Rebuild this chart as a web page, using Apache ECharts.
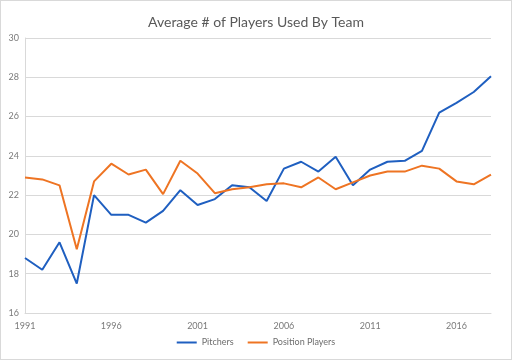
<!DOCTYPE html>
<html>
<head>
<meta charset="utf-8">
<script src="https://cdn.jsdelivr.net/npm/echarts@6/dist/echarts.min.js"></script>
<style>
html,body{margin:0;padding:0;background:#fff;}
#c{width:512px;height:360px;box-sizing:border-box;border:1px solid #d9d9d9;}
</style>
</head>
<body>
<div id="c"></div>
<script>
const years = [1991,1992,1993,1994,1995,1996,1997,1998,1999,2000,2001,2002,2003,2004,2005,2006,2007,2008,2009,2010,2011,2012,2013,2014,2015,2016,2017,2018];
const pitchers = [18.8,18.2,19.6,17.5,22.0,21.0,21.0,20.6,21.2,22.25,21.5,21.8,22.5,22.4,21.7,23.35,23.7,23.2,23.95,22.5,23.3,23.7,23.75,24.25,26.2,26.7,27.25,28.05];
const positionPlayers = [22.9,22.8,22.5,19.25,22.7,23.6,23.05,23.3,22.05,23.75,23.1,22.1,22.3,22.4,22.55,22.6,22.4,22.9,22.3,22.65,23.0,23.2,23.2,23.5,23.35,22.7,22.55,23.05];
const yTicks = {min:16, max:30, interval:2};

const chart = echarts.init(document.getElementById('c'));
const font = 'Lato, "Open Sans", sans-serif';
chart.setOption({
  animation:false,
  title:{text:'Average # of Players Used By Team', left:'center', top:9,
    textStyle:{fontFamily:font, fontSize:14, fontWeight:'normal', color:'#595959'}},
  legend:{bottom:7, left:'center', itemWidth:20, itemHeight:2, itemGap:14, icon:'rect',
    textStyle:{fontFamily:font, fontSize:9, color:'#6e6e6e'},
    data:['Pitchers','Position Players']},
  grid:{left:24, right:20, top:37, bottom:46},
  xAxis:{type:'category', data:years.map(String), boundaryGap:false,
    axisLine:{lineStyle:{color:'#d9d9d9'}}, axisTick:{show:false},
    axisLabel:{interval:4, color:'#7a7a7a', fontFamily:font, fontSize:9, margin:9}},
  yAxis:{type:'value', min:yTicks.min, max:yTicks.max, interval:yTicks.interval,
    axisLine:{show:true, lineStyle:{color:'#d9d9d9'}}, axisTick:{show:false},
    splitLine:{lineStyle:{color:'#d9d9d9'}},
    axisLabel:{color:'#7a7a7a', fontFamily:font, fontSize:9, margin:6}},
  series:[
    {name:'Pitchers', type:'line', data:pitchers, showSymbol:false, symbol:'none',
      lineStyle:{width:2, color:'#1f5fc0'}, itemStyle:{color:'#1f5fc0'}},
    {name:'Position Players', type:'line', data:positionPlayers, showSymbol:false, symbol:'none',
      lineStyle:{width:2, color:'#ee7423'}, itemStyle:{color:'#ee7423'}}
  ]
});
</script>
</body>
</html>
